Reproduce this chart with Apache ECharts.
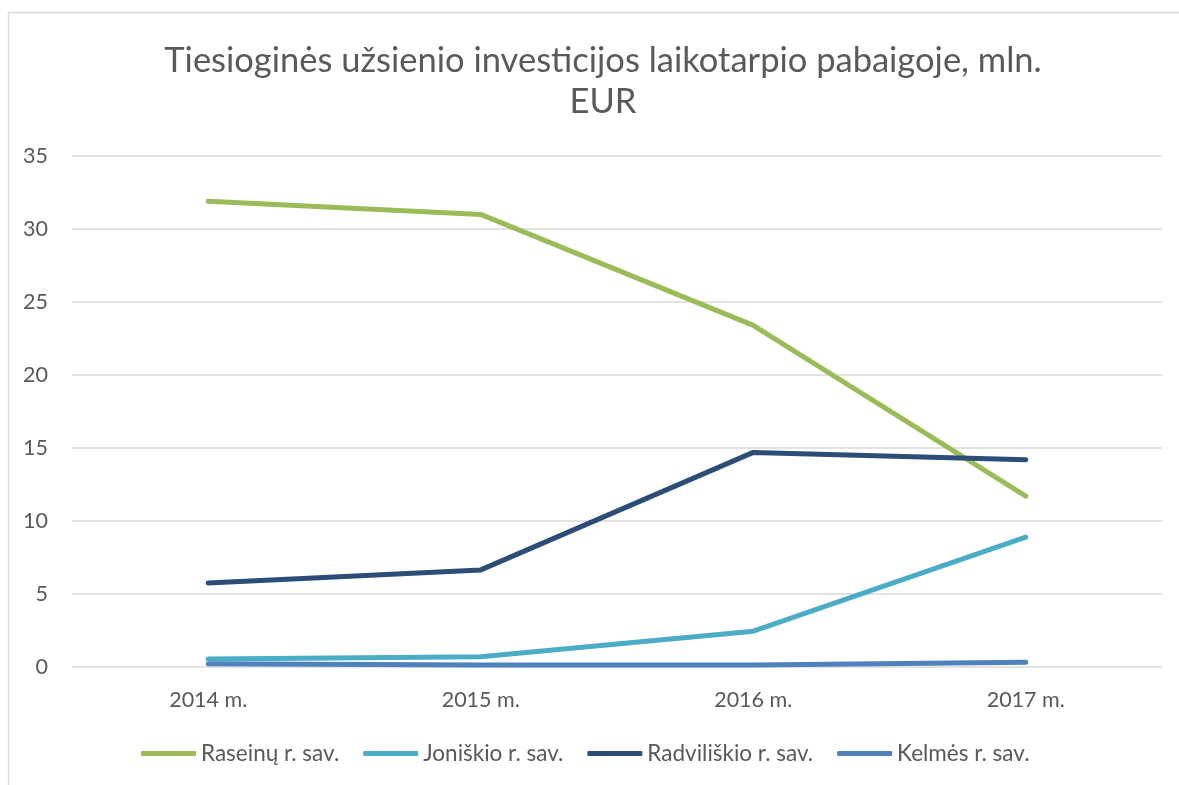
<!DOCTYPE html>
<html>
<head>
<meta charset="utf-8">
<script src="https://cdn.jsdelivr.net/npm/echarts@6/dist/echarts.min.js"></script>
<style>
  html, body { margin: 0; padding: 0; background: #fff; }
  #c1 { width: 1179px; height: 785px; }
</style>
</head>
<body>
<div id="c1"></div>
<script>
var years = ['2014 m.', '2015 m.', '2016 m.', '2017 m.'];
var raseiniu = [31.9, 31.0, 23.4, 11.7];
var joniskio = [0.55, 0.7, 2.45, 8.9];
var radviliskio = [5.75, 6.65, 14.7, 14.2];
var kelmes = [0.22, 0.14, 0.14, 0.32];
var yTicks = [0, 5, 10, 15, 20, 25, 30, 35];

var font = 'Lato, "Open Sans", sans-serif';

function makeLine(name, data, color){
  return {
    name: name,
    type: 'line',
    data: data,
    symbol: 'none',
    lineStyle: {width: 5, color: color, cap: 'round', join: 'round'},
    itemStyle: {color: color}
  };
}

var option = {
  animation: false,
  title: {
    text: 'Tiesioginės užsienio investicijos laikotarpio pabaigoje, mln.\nEUR',
    left: 598,
    textAlign: 'center',
    top: 35,
    textStyle: {
      fontFamily: font,
      fontWeight: 'normal',
      fontSize: 34.5,
      color: '#595959',
      lineHeight: 41
    }
  },
  legend: {
    top: 737,
    left: 136,
    itemWidth: 55,
    itemHeight: 5,
    itemGap: 24,
    icon: 'roundRect',
    textStyle: {fontFamily: font, fontSize: 22.5, color: '#595959'},
    data: ['Raseinų r. sav.', 'Joniškio r. sav.', 'Radviliškio r. sav.', 'Kelmės r. sav.']
  },
  grid: {left: 72, right: 17, top: 156, bottom: 118},
  xAxis: {
    type: 'category',
    boundaryGap: true,
    data: years,
    axisLine: {show: false},
    axisTick: {show: false},
    axisLabel: {margin: 22, fontFamily: font, fontSize: 21.5, color: '#595959'}
  },
  yAxis: {
    type: 'value',
    min: yTicks[0],
    max: yTicks[yTicks.length - 1],
    interval: 5,
    axisLine: {show: false},
    axisTick: {show: false},
    axisLabel: {margin: 24, fontFamily: font, fontSize: 21.5, color: '#595959'},
    splitLine: {lineStyle: {color: '#d9d9d9', width: 1.5}}
  },
  graphic: [{
    type: 'rect',
    shape: {x: 8.5, y: 12.5, width: 1250, height: 900},
    style: {fill: 'none', stroke: '#d9d9d9', lineWidth: 1.5},
    silent: true,
    z: -1
  }],
  series: [
    makeLine('Raseinų r. sav.', raseiniu, '#9bbb59'),
    makeLine('Joniškio r. sav.', joniskio, '#4bacc6'),
    makeLine('Radviliškio r. sav.', radviliskio, '#2c4d75'),
    makeLine('Kelmės r. sav.', kelmes, '#4f81bd')
  ]
};

var myChart = echarts.init(document.getElementById('c1'));
myChart.setOption(option);
window.onresize = myChart.resize;
</script>
</body>
</html>
